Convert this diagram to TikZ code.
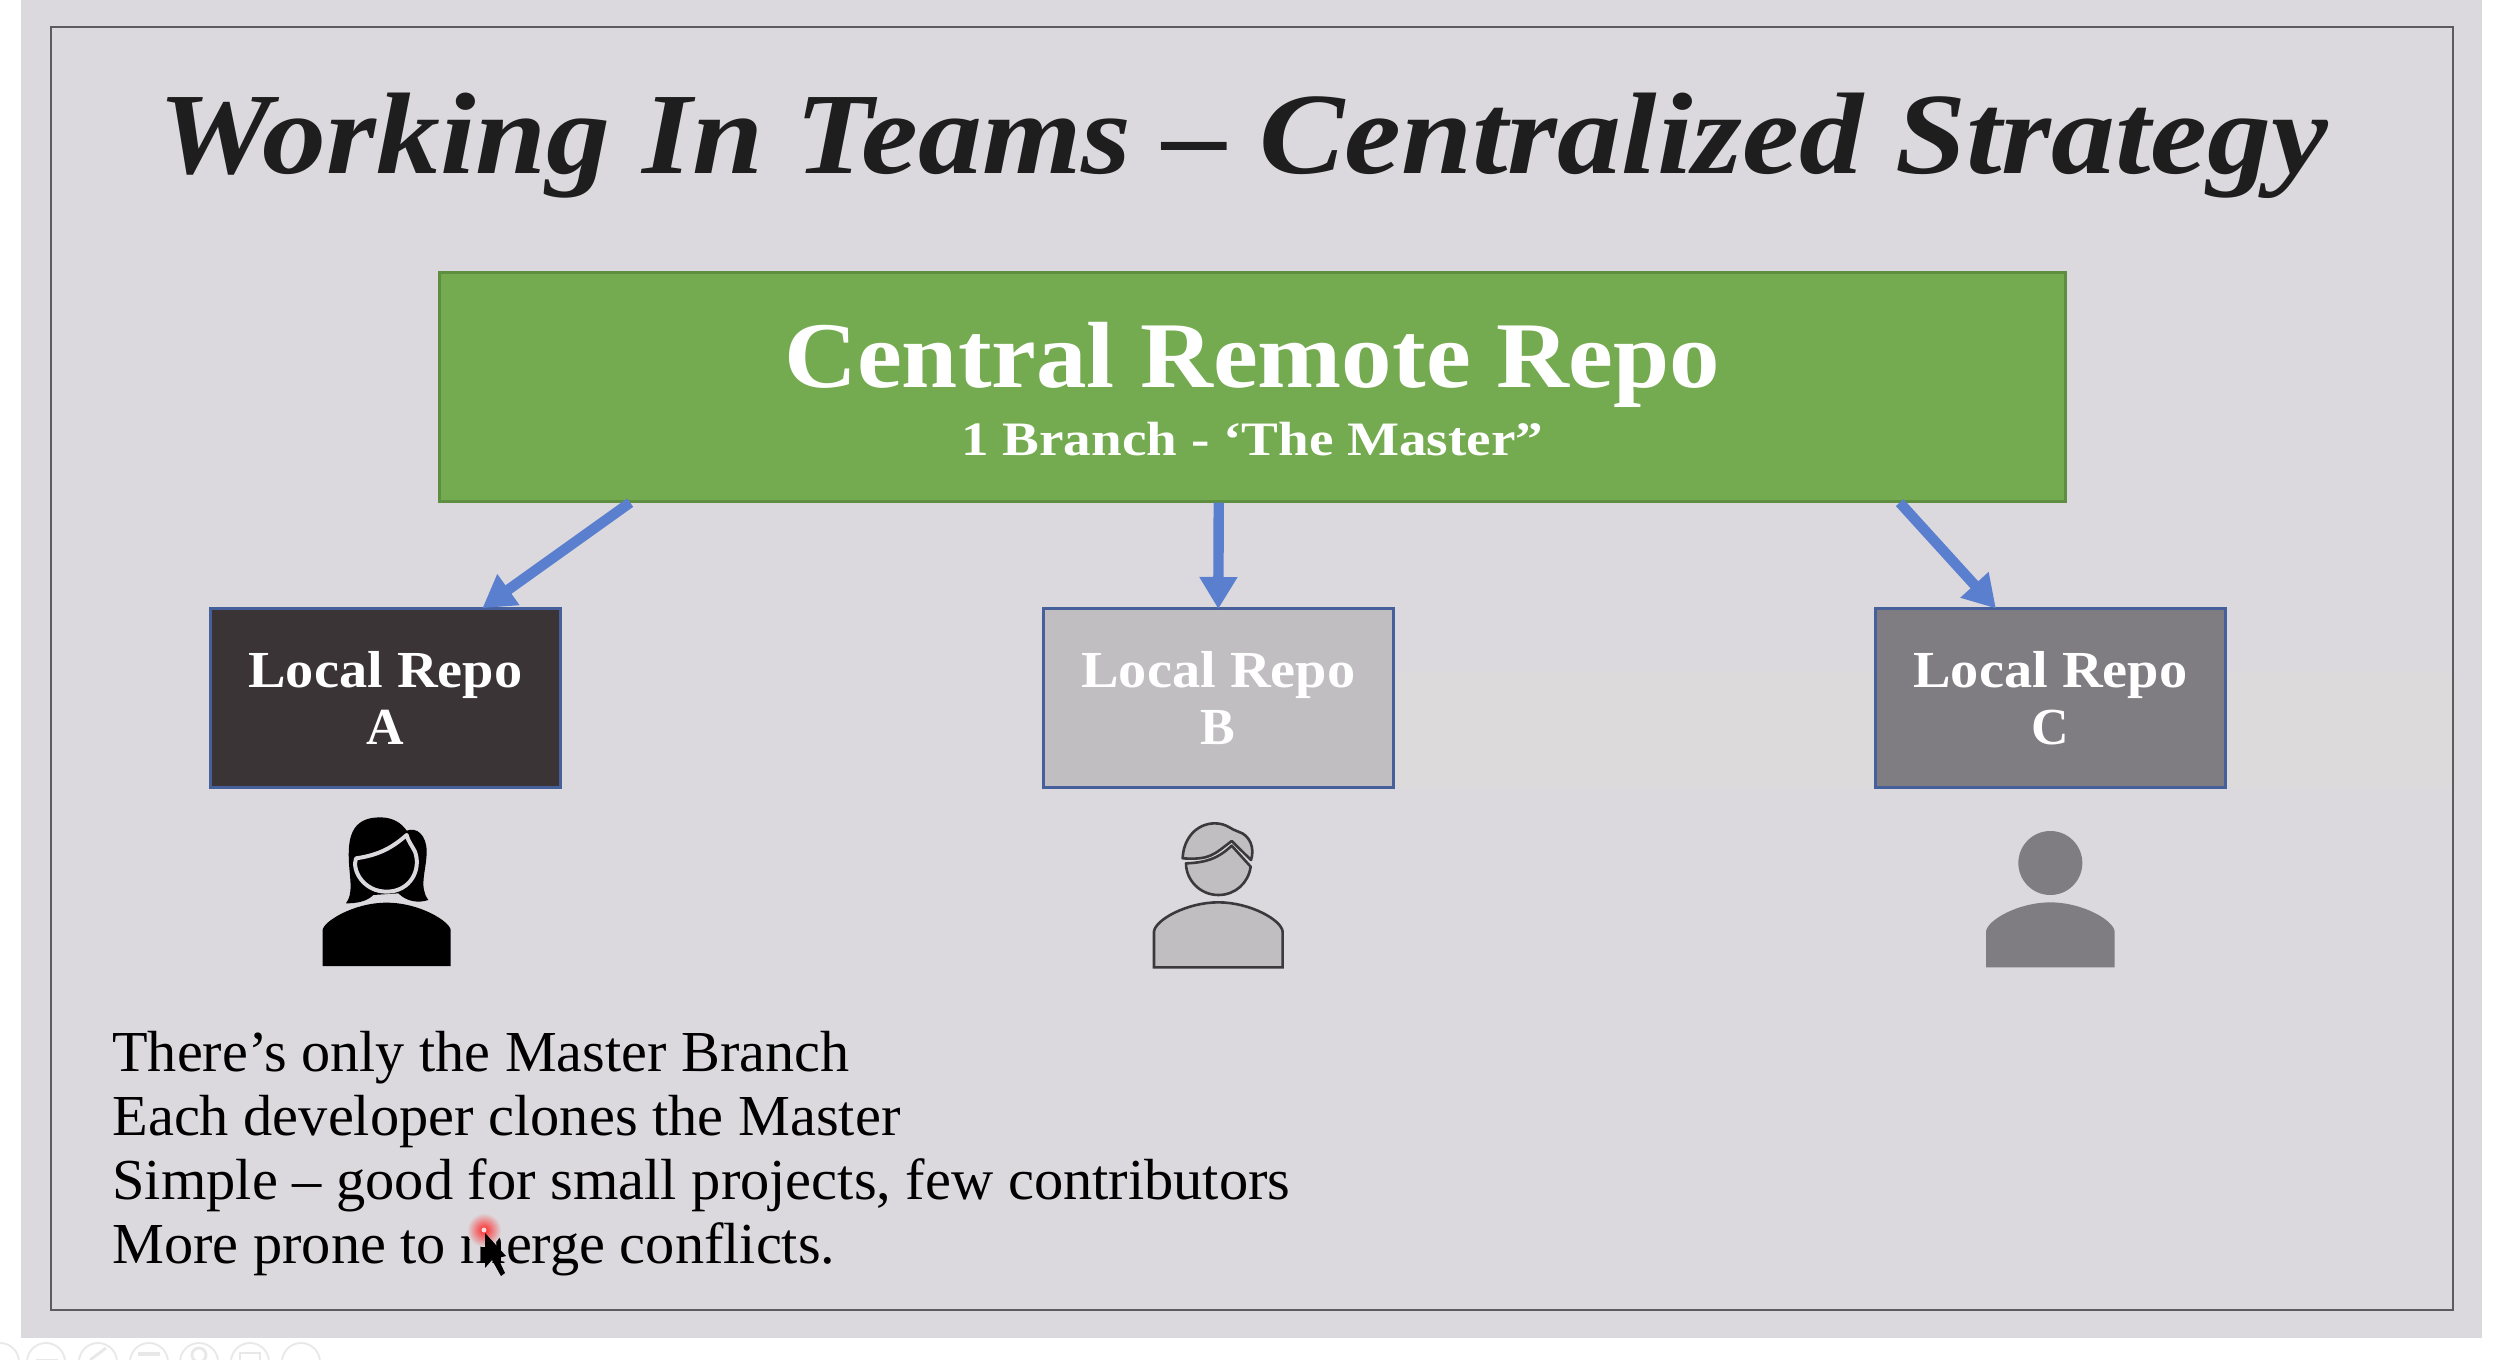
\documentclass[tikz,border=0pt]{standalone}
\usepackage{graphicx}
\usepackage{fontspec}
\setmainfont{Liberation Serif}
\usetikzlibrary{arrows.meta,calc}
\definecolor{slidebg}{HTML}{DBD9DD}
\definecolor{smear}{HTML}{DCDADB}
\definecolor{framecol}{HTML}{5C5C60}
\definecolor{greenfill}{HTML}{74AB50}
\definecolor{greenline}{HTML}{5E8F40}
\definecolor{boxline}{HTML}{46609C}
\definecolor{fillA}{HTML}{3B3437}
\definecolor{fillB}{HTML}{C0BEC1}
\definecolor{fillC}{HTML}{7F7D81}
\definecolor{arrowcol}{HTML}{5B7FCF}
\definecolor{titlecol}{HTML}{1E1E1E}
\definecolor{iconline}{HTML}{3A3A3C}
\newcommand\fitw[2]{\setbox0=\hbox{#2}\pgfmathsetmacro\fx{#1*0.5/\the\wd0}\scalebox{\fx}[1]{\box0}}
\tikzset{
  x=0.5pt,y=-0.5pt,
  localbox/.style={draw=boxline,line width=1.3pt,inner sep=0pt,minimum width=175pt,minimum height=89.5pt,anchor=north west,text=white,align=center,font=\fontsize{26}{28.5}\selectfont\bfseries},
  flow/.style={draw=arrowcol,line width=5.2pt,-{Triangle[length=16pt,width=18pt,fill=arrowcol]},shorten >=-1pt},
  bodyline/.style={anchor=base west,inner sep=0pt,text=black,font=\fontsize{29}{32}\selectfont},
  tool/.style={draw=black!9,line width=0.9pt},
}
\begin{document}
\begin{tikzpicture}
\useasboundingbox (0,0) rectangle (2506,1360);
\fill[white] (0,0) rectangle (2506,1360);
\fill[slidebg] (21,0) rectangle (2482,1338);
\fill[smear] (1394,673) rectangle (2453,787);
\draw[framecol,line width=1.1pt] (51,27) rectangle (2453,1310);
\foreach \tx in {0,46,98,149,199,250,301} \draw[tool] (\tx,1362) circle (19);
\draw[tool,line width=1.4pt] (36,1360) -- (58,1360);
\draw[tool,line width=1.4pt] (90,1360) -- (106,1348);
\draw[tool,line width=2pt] (138,1354) -- (160,1354);
\draw[tool,line width=1.4pt] (199,1355) circle (7);
\draw[tool,line width=1.4pt] (240,1353) rectangle (260,1362);
\node[anchor=base west,inner sep=0pt,text=titlecol,font=\fontsize{58}{60}\selectfont\bfseries\itshape] (title) at (158,173) {\fitw{2170}{Working In Teams – Centralized Strategy}};
\node[draw=greenline,line width=1.3pt,fill=greenfill,inner sep=0pt,minimum width=813pt,minimum height=114.5pt,anchor=north west,text=white,align=center,font=\bfseries] (central) at (438,271) {{\rule{0pt}{35pt}\fontsize{47}{50}\selectfont\fitw{936}{Central Remote Repo}}\\[6.5pt]{\fontsize{24}{26}\selectfont\fitw{582}{1 Branch - ‘The Master”}}};
\node[localbox,fill=fillA] (a) at (209,607) {\fitw{274}{Local Repo}\\A};
\node[localbox,fill=fillB] (b) at (1042,607) {\fitw{274}{Local Repo}\\B};
\node[localbox,fill=fillC] (c) at (1874,607) {\fitw{274}{Local Repo}\\C};
\draw[flow] ($(central.south west)!0.118!(central.south east)$) -- ($(a.north west)!0.78!(a.north east)$);
\draw[flow] ($(central.south west)!0.4794!(central.south east)$) -- (b.north);
\draw[flow] ($(central.south west)!0.8975!(central.south east)$) -- ($(c.north west)!0.342!(c.north east)$);
% person A
\begin{scope}[shift={(180,780)},scale=1/3]
\fill[black] (428,558) -- (428,450) .. controls (430,425) and (520,368) .. (620,368) .. controls (720,368) and (810,425) .. (812,450) -- (812,558) -- cycle;
\fill[black] (498,370) .. controls (520,340) and (510,300) .. (507,250) .. controls (503,180) and (510,112) .. (600,112) .. controls (640,112) and (665,130) .. (680,152) .. controls (710,140) and (740,165) .. (740,215) .. controls (740,270) and (715,320) .. (745,360) .. controls (715,370) and (680,365) .. (655,340) -- (580,345) .. controls (560,365) and (530,370) .. (498,370) -- cycle;
\draw[draw=slidebg,line width=2pt,fill=black,line join=round] (680,165) .. controls (640,200) and (600,225) .. (528,235) .. controls (515,270) and (550,335) .. (620,335) .. controls (690,335) and (725,270) .. (705,215) .. controls (695,195) and (685,185) .. (680,165) -- cycle;
\end{scope}
% person B
\begin{scope}[shift={(1080,780)},scale=1/3]
\draw[draw=iconline,line width=1.3pt,fill=fillB] (222,562) -- (222,455) .. controls (225,420) and (320,367) .. (415,367) .. controls (510,367) and (605,420) .. (608,455) -- (608,562) -- cycle;
\draw[draw=iconline,line width=1.3pt,fill=fillB,line join=round] (318,250) .. controls (370,248) and (410,240) .. (455,197) -- (512,260) .. controls (505,310) and (465,345) .. (415,345) .. controls (360,345) and (318,300) .. (318,250) -- cycle;
\draw[draw=iconline,line width=1.3pt,fill=fillB,line join=round] (308,235) .. controls (310,175) and (350,130) .. (405,130) .. controls (440,130) and (455,150) .. (475,155) .. controls (510,165) and (525,205) .. (513,240) -- (455,183) .. controls (400,225) and (390,240) .. (308,235) -- cycle;
\end{scope}
% person C
\begin{scope}[shift={(1912,780)},scale=1/3]
\fill[fillC] (222,562) -- (222,455) .. controls (225,420) and (320,367) .. (415,367) .. controls (510,367) and (605,420) .. (608,455) -- (608,562) -- cycle;
\fill[fillC] (415,249) circle (96);
\end{scope}
\node[bodyline] (l1) at (112,1071) {\fitw{737}{There’s only the Master Branch}};
\node[bodyline] (l2) at (112,1135) {\fitw{788}{Each developer clones the Master}};
\node[bodyline] (l3) at (112,1199) {\fitw{1178}{Simple – good for small projects, few contributors}};
\node[bodyline] (l4) at (112,1263) {\fitw{723}{More prone to merge conflicts.}};
% pointer
\shade[inner color=red!85!white,outer color=slidebg] (484,1230) circle (17);
\fill[white!85!red] (484,1230) circle (2.5);
\fill[black] (485,1233) -- (485,1268) -- (492,1260) -- (501,1276) -- (505,1273) -- (498,1258) -- (506,1256) -- cycle;
\end{tikzpicture}
\end{document}
